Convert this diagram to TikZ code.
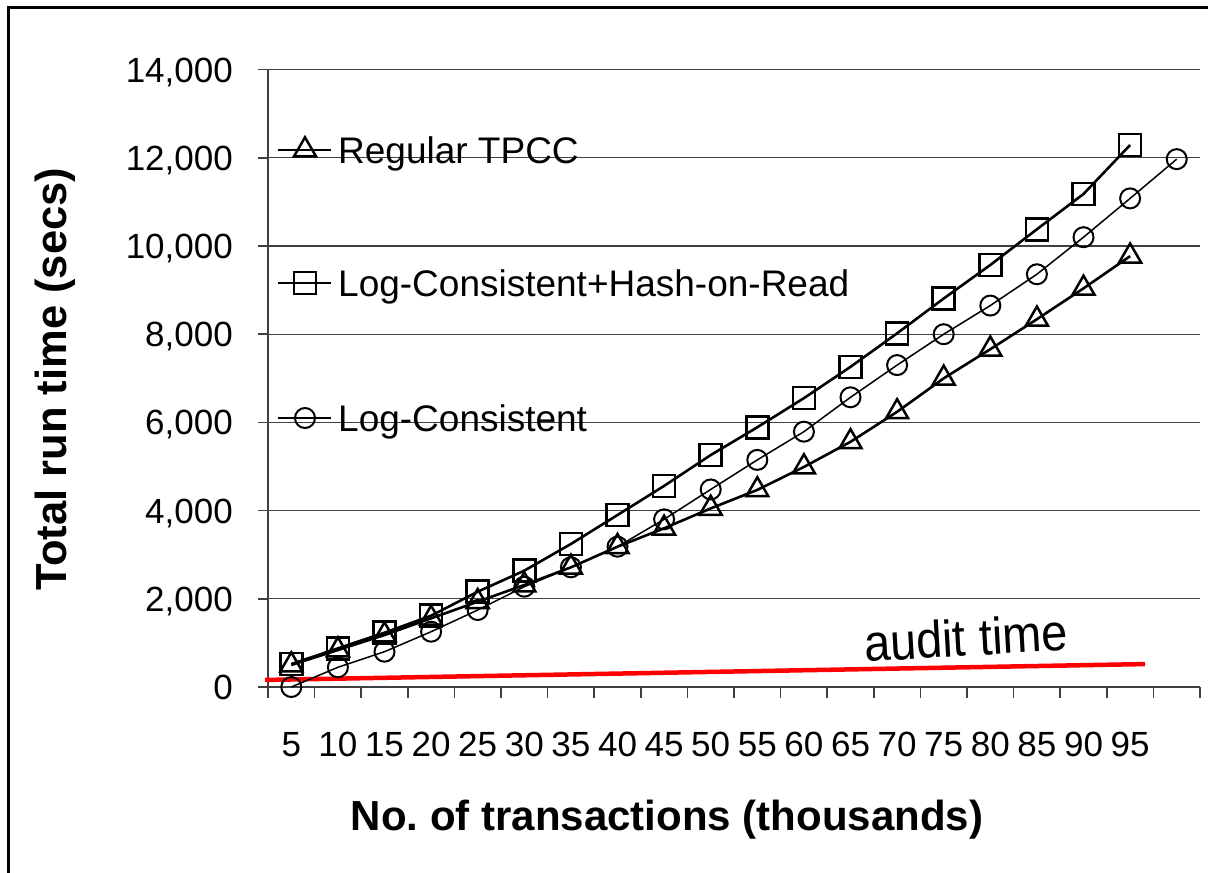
\documentclass[tikz,border=0pt]{standalone}
\usepackage{fontspec}
\setmainfont{Liberation Sans}
\usetikzlibrary{plotmarks}

\begin{document}
\begin{tikzpicture}[x=1pt, y=-1pt,
    ticklabel/.style={inner sep=0pt, text height=25pt, text depth=0pt, font=\fontsize{35}{42}\selectfont},
    legendlabel/.style={inner sep=0pt, text height=26.5pt, text depth=0pt, font=\fontsize{37}{44}\selectfont},
    axistitle/.style={inner sep=0pt, text height=30pt, text depth=0pt, font=\fontsize{42}{50}\selectfont\bfseries},
    gridline/.style={black!75, line width=1.3pt},
    axisline/.style={black!75, line width=1.5pt},
    triline/.style={line width=2.6pt, mark=triangle, mark size=12.7pt, mark options={line width=2.5pt}},
    sqline/.style={line width=2.6pt, mark=square, mark size=11pt, mark options={line width=2.5pt}},
    cirline/.style={line width=1.5pt, mark=o, mark size=10pt, mark options={line width=2pt}}]

  \useasboundingbox (0,0) rectangle (1208,873);
  \draw[line width=3pt] (8,880) -- (8,7) -- (1215,7);

  % plot area
  \begin{scope}[shift={(268,687)}, x=46.6pt, y=0.0441pt]
    \foreach \v in {2000,4000,...,14000}
      \draw[gridline] (0,\v) -- (20,\v);
    \foreach \v/\t in {0/0, 2000/{2,000}, 4000/{4,000}, 6000/{6,000}, 8000/{8,000},
                       10000/{10,000}, 12000/{12,000}, 14000/{14,000}} {
      \draw[axisline] (0,\v) -- ++(-10pt,0pt);
      \node[ticklabel, anchor=east] (y\v) at ([xshift=-35pt]0,\v) {\t};
    }
    \foreach \k in {0,...,20}
      \draw[axisline] (\k,0) -- ++(0pt,-11pt);
    \foreach \n [count=\k from 0] in {5,10,...,95}
      \node[ticklabel] (x\n) at ([yshift=-57pt]\k+0.5,0) {\n};
    \draw[axisline] (0,14000) -- (0,0) -- (20,0);

    % audit time
    \draw[red, line width=4.5pt] (-0.06,160) -- (18.82,520);

    % series
    \draw[triline] plot coordinates {(0.5,499) (1.5,839) (2.5,1179) (3.5,1557) (4.5,1935)
      (5.5,2313) (6.5,2714) (7.5,3182) (8.5,3599) (9.5,4050) (10.5,4470) (11.5,4990)
      (12.5,5560) (13.5,6240) (14.5,7000) (15.5,7660) (16.5,8340) (17.5,9040) (18.5,9770)};
    \draw[sqline] plot coordinates {(0.5,520) (1.5,877) (2.5,1231) (3.5,1617) (4.5,2161)
      (5.5,2638) (6.5,3243) (7.5,3900) (8.5,4560) (9.5,5260) (10.5,5890) (11.5,6550)
      (12.5,7260) (13.5,8020) (14.5,8810) (15.5,9570) (16.5,10380) (17.5,11180) (18.5,12290)};
    \draw[cirline] plot coordinates {(0.5,0) (1.5,447) (2.5,801) (3.5,1254) (4.5,1746)
      (5.5,2275) (6.5,2714) (7.5,3182) (8.5,3803) (9.5,4480) (10.5,5150) (11.5,5790)
      (12.5,6570) (13.5,7300) (14.5,8000) (15.5,8650) (16.5,9360) (17.5,10200) (18.5,11080)
      (19.5,11970)};
  \end{scope}

  \node[inner sep=0pt, anchor=base, rotate=3.3] (audit) at (967,656)
    {\scalebox{1}[1.1]{\fontsize{47}{50}\selectfont audit time}};

  % legend
  \draw[line width=2pt] (278,150) -- (331,150);
  \path[triline, line width=2pt] plot[only marks] coordinates {(305,150)};
  \node[legendlabel, anchor=west] (lgtri) at (338,150) {Regular TPCC};
  \draw[line width=2pt] (278,283) -- (331,283);
  \path[sqline, line width=2pt] plot[only marks] coordinates {(305,283)};
  \node[legendlabel, anchor=west] (lgsq) at (338,283) {Log-Consistent+Hash-on-Read};
  \draw[line width=2pt] (278,418) -- (331,418);
  \path[cirline] plot[only marks] coordinates {(305,418)};
  \node[legendlabel, anchor=west] (lgcir) at (338,418) {Log-Consistent};

  % axis titles
  \node[axistitle, rotate=90, font=\fontsize{43.5}{50}\selectfont\bfseries] (ytitle) at (51,379)
    {Total run time (secs)};
  \node[axistitle] (xtitle) at (667,815) {No.\ of transactions (thousands)};
\end{tikzpicture}
\end{document}
